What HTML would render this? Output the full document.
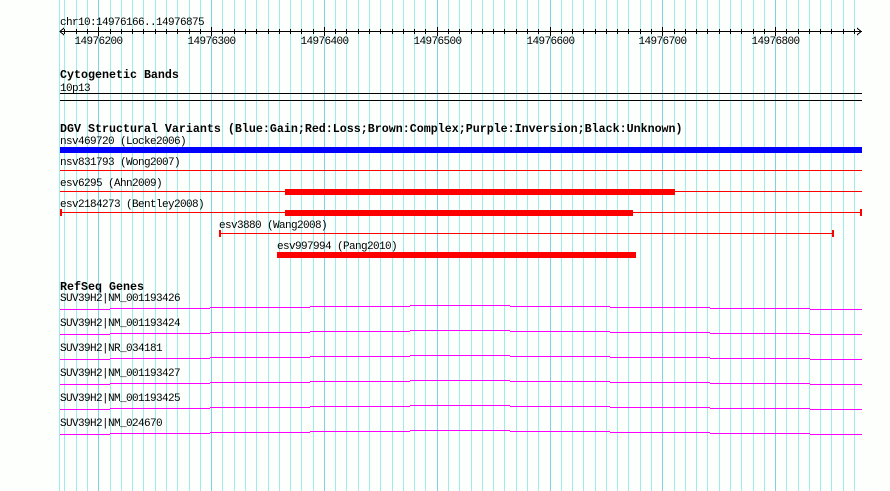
<!DOCTYPE html>
<html><head><meta charset="utf-8"><style>
html,body{margin:0;padding:0;background:#fcfffc;}
svg{display:block;}
text{font-family:"Liberation Mono",monospace;font-size:11px;letter-spacing:-0.6px;fill:#000;}
.b{font-weight:bold;font-size:11.67px;letter-spacing:0;}
</style></head><body>
<svg id="s" width="890" height="491" xmlns="http://www.w3.org/2000/svg" shape-rendering="crispEdges">
<g id="grid"></g>
<g id="ruler" stroke="#000" stroke-width="1"></g>
<text x="60" y="25">chr10:14976166..14976875</text>
<g id="rl"></g>
<text class="b" x="60" y="78">Cytogenetic Bands</text>
<text x="60" y="91">10p13</text>
<rect x="60" y="93" width="802" height="1" fill="#000"/>
<rect x="60" y="100" width="802" height="1" fill="#000"/>
<text class="b" x="60" y="132">DGV Structural Variants (Blue:Gain;Red:Loss;Brown:Complex;Purple:Inversion;Black:Unknown)</text>
<text x="60" y="144">nsv469720 (Locke2006)</text>
<rect x="60" y="147" width="802" height="6" fill="#0000ff"/>
<text x="60" y="165">nsv831793 (Wong2007)</text>
<rect x="60" y="170" width="802" height="1" fill="#f00"/>
<text x="60" y="186">esv6295 (Ahn2009)</text>
<rect x="60" y="191" width="802" height="1" fill="#f00"/>
<rect x="285" y="189" width="390" height="6" fill="#f00"/>
<text x="60" y="207">esv2184273 (Bentley2008)</text>
<rect x="60" y="212" width="802" height="1" fill="#f00"/>
<rect x="60" y="209" width="2" height="7" fill="#f00"/>
<rect x="860" y="209" width="2" height="7" fill="#f00"/>
<rect x="285" y="210" width="348" height="6" fill="#f00"/>
<text x="219" y="228">esv3880 (Wang2008)</text>
<rect x="219" y="233" width="614" height="1" fill="#f00"/>
<rect x="219" y="230" width="2" height="7" fill="#f00"/>
<rect x="832" y="230" width="2" height="7" fill="#f00"/>
<text x="277" y="249">esv997994 (Pang2010)</text>
<rect x="277" y="252" width="359" height="6" fill="#f00"/>
<text class="b" x="60" y="290">RefSeq Genes</text>
<g id="genes"></g>
</svg>
<script>
var NS="http://www.w3.org/2000/svg";
function el(p,t,a){var e=document.createElementNS(NS,t);for(var k in a)e.setAttribute(k,a[k]);document.getElementById(p).appendChild(e);return e;}
el("grid","rect",{x:59,y:0,width:1,height:491,fill:"#a0ecec"});
for(var i=-3;i<=67;i++){var x=Math.round(98.3+i*11.28);if(x>856)break;var maj=(i%10==0);
el("grid","rect",{x:x,y:0,width:1,height:491,fill:maj?"#80d0e8":"#a0ecec"});}
el("ruler","line",{x1:60,y1:31.5,x2:862,y2:31.5});
el("ruler","polyline",{points:"64,28 60,31.5 64,35",fill:"none"});
el("ruler","polyline",{points:"857,28 861,31.5 857,35",fill:"none"});
var labs=["14976200","14976300","14976400","14976500","14976600","14976700","14976800"];
for(var i=-3;i<=67;i++){var x=Math.round(98.3+i*11.28)+0.5;if(x>856)break;var maj=(i%10==0);
el("ruler","line",{x1:x,y1:maj?27:29,x2:x,y2:maj?36:34});
if(maj){var t=el("rl","text",{x:x,y:44,"text-anchor":"middle"});t.textContent=labs[i/10];}}
var names=["SUV39H2|NM_001193426","SUV39H2|NM_001193424","SUV39H2|NR_034181","SUV39H2|NM_001193427","SUV39H2|NM_001193425","SUV39H2|NM_024670"];
var bx=[60,110,210,310,410,510,610,710,810,862];var off=[0,-1,-2,-3,-4,-3,-2,-1,0];
for(var r=0;r<6;r++){var by=309+r*25;var t=el("genes","text",{x:60,y:by-8});t.textContent=names[r];
for(var s=0;s<9;s++){el("genes","rect",{x:bx[s],y:by+off[s],width:bx[s+1]-bx[s],height:1,fill:"#ff00ff"});}}
</script>
</body></html>
